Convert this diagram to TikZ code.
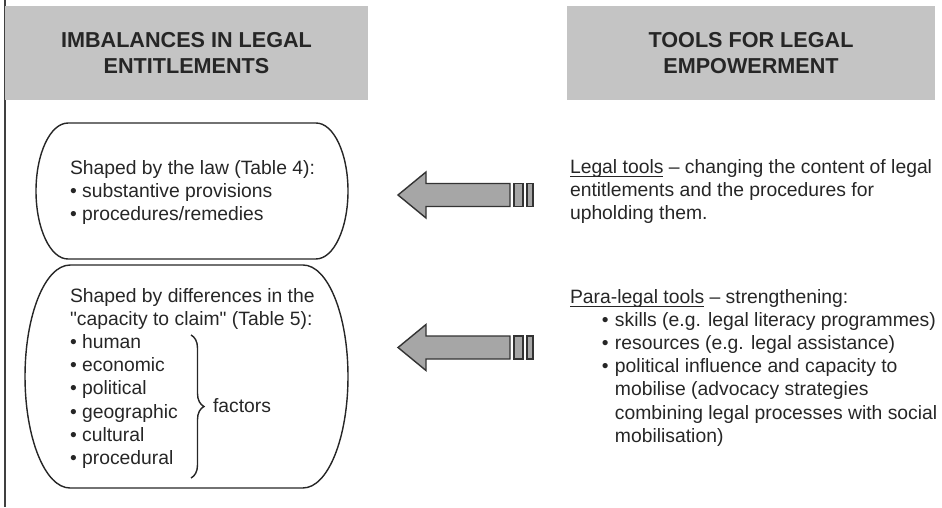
\documentclass[tikz,border=0pt]{standalone}
\usepackage{fontspec}
\setmainfont{Liberation Sans}
\usetikzlibrary{decorations.pathreplacing}
\definecolor{headgrey}{RGB}{196,196,196}
\definecolor{arrowgrey}{RGB}{166,166,166}
\newcommand{\tbul}{\makebox[25.6pt][l]{\hspace*{18.2pt}•}}
\newcommand{\tind}{\hspace*{25.6pt}}
\newcommand{\undl}[1]{\leavevmode\setbox0\hbox{#1}\rlap{\rule[-2.4pt]{\wd0}{0.75pt}}\box0\relax}

\begin{document}
\begin{tikzpicture}[x=0.02cm, y=-0.02cm,
    every node/.style={inner sep=0pt, outer sep=0pt, text=black!85},
    headbox/.style={fill=headgrey, minimum height=1.88cm, align=center, font=\fontsize{12.3}{14.3}\selectfont\bfseries},
    bodytext/.style={anchor=base west, align=left, font=\fontsize{11}{13.2}\selectfont},
    oval/.style={draw=black!85, line width=0.8pt},
    blockarrow/.style={draw=black!80, fill=arrowgrey, line width=0.8pt}]
    \useasboundingbox (0,0) rectangle (942,507);
    \clip (0,0) rectangle (942,507);

    % frame line on the left
    \draw[line width=1.1pt, black!75] (5,0) -- (5,507);

    % Headings
    \node[headbox, minimum width=7.26cm] (imbal) at (186.5,53) {IMBALANCES IN LEGAL\\ENTITLEMENTS};
    \node[headbox, minimum width=7.36cm] (tools) at (751,53) {TOOLS FOR LEGAL\\EMPOWERMENT};

    % Imbalances (left)
    \draw[oval] (68,123) -- (316,123) arc[start angle=90, end angle=-90, x radius=0.64cm, y radius=1.36cm]
        -- (68,259) arc[start angle=270, end angle=90, x radius=0.64cm, y radius=1.36cm] -- cycle;
    \draw[oval] (70,265) -- (303,265) arc[start angle=90, end angle=-90, x radius=0.9cm, y radius=2.23cm]
        -- (70,488) arc[start angle=270, end angle=90, x radius=0.9cm, y radius=2.23cm] -- cycle;

    % (base = last line)
    \node[bodytext] (law) at (70,220.4) {Shaped by the law (Table 4):\\• substantive provisions\\• procedures/remedies};
    \node[bodytext] (claim) at (70,464.4) {Shaped by differences in the\\\textquotedbl capacity to claim\textquotedbl{} (Table 5):\\• human\\• economic\\• political\\• geographic\\• cultural\\• procedural};

    \coordinate (bracetop) at (191,335);
    \coordinate (bracebot) at (191,478);
    \draw[decorate, decoration={brace, amplitude=0.26cm}, line width=0.8pt, black!85] (bracetop) -- (bracebot);
    \node[bodytext] (factors) at (213,412) {factors};

    % Arrows
    \draw[blockarrow] (398,195) -- (426,172) -- (426,183.5) -- (510,183.5) -- (510,206.5) -- (426,206.5) -- (426,218) -- cycle;
    \draw[blockarrow] (514,183.5) rectangle (523,206.5);
    \draw[blockarrow] (527,183.5) rectangle (533,206.5);

    \draw[blockarrow] (398,347.5) -- (426,324.5) -- (426,336) -- (510,336) -- (510,359) -- (426,359) -- (426,370.5) -- cycle;
    \draw[blockarrow] (514,336) rectangle (523,359);
    \draw[blockarrow] (527,336) rectangle (533,359);

    % Tools (right)
    \node[bodytext] (legaltools) at (570,219.4) {\undl{Legal tools} -- changing the content of legal\\entitlements and the procedures for\\upholding them.};
    \node[bodytext] (paralegal) at (570,442.2) {\undl{Para-legal tools} -- strengthening:\\\tbul skills (e.g. legal literacy programmes)\\\tbul resources (e.g. legal assistance)\\\tbul political influence and capacity to\\\tind mobilise (advocacy strategies\\\tind combining legal processes with social\\\tind mobilisation)};
\end{tikzpicture}
\end{document}
